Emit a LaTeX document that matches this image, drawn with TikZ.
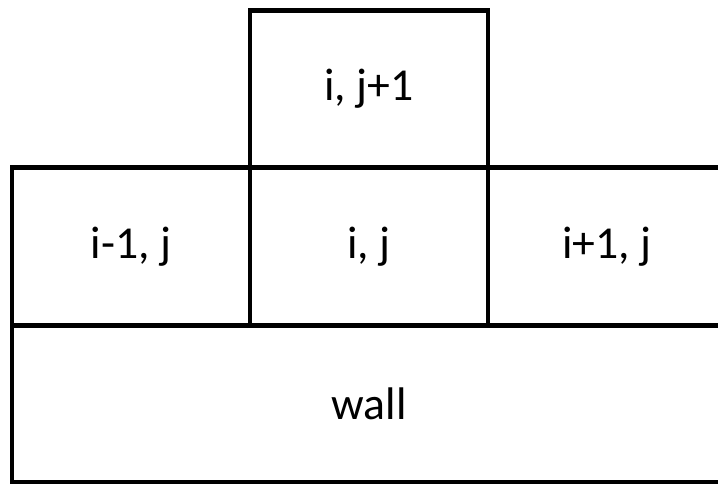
\documentclass[tikz,border=0pt]{standalone}
\usepackage{fontspec}
\setmainfont{Carlito}
\usetikzlibrary{positioning}

\begin{document}
\begin{tikzpicture}[% styles shared by all cells
					every node/.style={
						align=center,
						font=\fontsize{26}{30}\selectfont
						},
					cell/.style={
						rectangle,draw=black,line width=2.7pt,
						outer sep=0pt,		% so that neighbouring borders coincide
						minimum width=4.76cm,
						minimum height=3.15cm
						}
					]
\useasboundingbox (0,0) rectangle (14.36,9.68);
\clip (0,0) rectangle (14.36,9.68);	% right column runs off the page
\node[cell](C) at (7.38,4.75){i, j};
\node[cell](L)[left=0pt of C]{i-1, j};
\node[cell](R)[right=0pt of C]{i+1, j};
\node[cell](T)[above=0pt of C]{i, j+1};
\node[cell,minimum width=14.28cm](W)[below=0pt of C]{wall};
\end{tikzpicture}
\end{document}
